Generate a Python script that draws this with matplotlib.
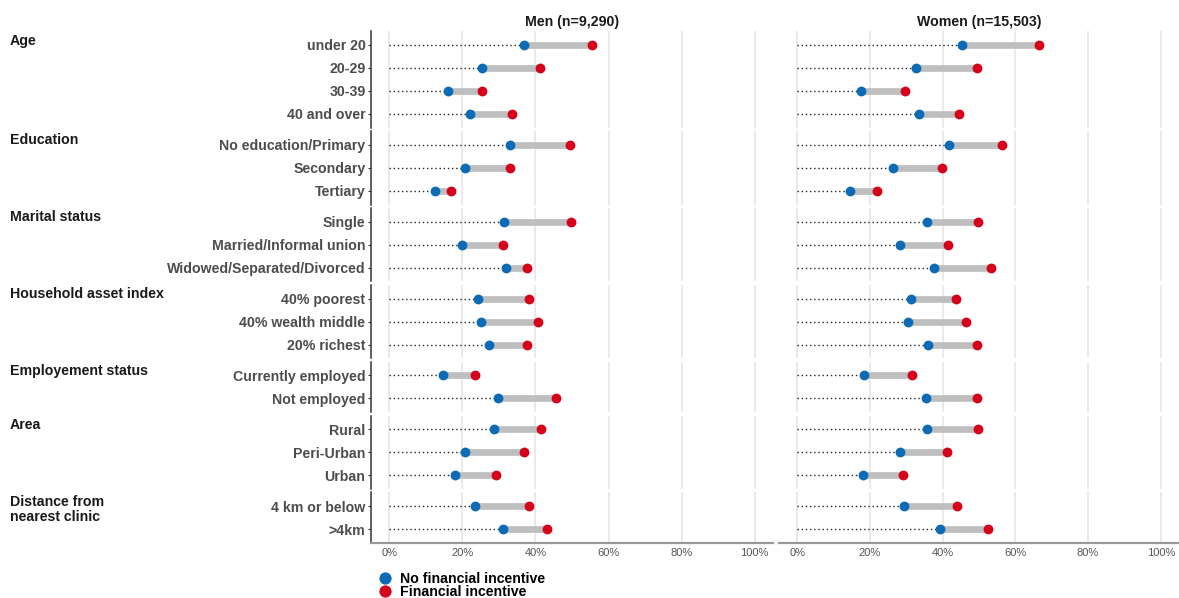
import numpy as np
import matplotlib
matplotlib.use("Agg")
import matplotlib.pyplot as plt
from matplotlib.lines import Line2D

plt.rcParams['font.family'] = ['Liberation Sans', 'DejaVu Sans']

# -----------------------------
# Data (percent)
# -----------------------------
groups = ["Age", "Education", "Marital status", "Household asset index",
          "Employement status", "Area", "Distance from\nnearest clinic"]
categories = [
    ["under 20", "20-29", "30-39", "40 and over"],
    ["No education/Primary", "Secondary", "Tertiary"],
    ["Single", "Married/Informal union", "Widowed/Separated/Divorced"],
    ["40% poorest", "40% wealth middle", "20% richest"],
    ["Currently employed", "Not employed"],
    ["Rural", "Peri-Urban", "Urban"],
    ["4 km or below", ">4km"],
]
men_no = [36.8, 25.4, 16.1, 22.2, 33.0, 20.8, 12.4, 31.4, 20.0, 31.9,
          24.2, 25.0, 27.3, 14.7, 29.8, 28.7, 20.8, 17.9, 23.4, 31.0]
men_fin = [55.6, 41.2, 25.4, 33.7, 49.4, 33.0, 16.9, 49.8, 31.1, 37.6,
           38.2, 40.8, 37.7, 23.4, 45.6, 41.4, 36.8, 29.3, 38.1, 43.2]
women_no = [45.3, 32.8, 17.6, 33.4, 41.8, 26.4, 14.5, 35.6, 28.3, 37.7,
            31.2, 30.6, 36.1, 18.3, 35.4, 35.8, 28.4, 18.1, 29.5, 39.3]
women_fin = [66.5, 49.4, 29.6, 44.6, 56.4, 39.9, 21.9, 49.8, 41.5, 53.3,
             43.6, 46.3, 49.4, 31.6, 49.4, 49.8, 41.3, 29.0, 44.0, 52.5]
panel_titles = ["Men (n=9,290)", "Women (n=15,503)"]
legend_labels = ["No financial incentive", "Financial incentive"]
x_ticks = [0, 20, 40, 60, 80, 100]

blue = "#0b6bb7"
red = "#d5021c"
seg_gray = "#bebebe"
fs = 10.2

# -----------------------------
# Layout (pixels)
# -----------------------------
W, H = 1179, 598
fig = plt.figure(figsize=(W / 100, H / 100), dpi=100)
panel_x = [(371, 773), (779, 1179)]
row_px = 23.0
gap_px = 3.3
top_px = 31.0

series = [(men_no, men_fin), (women_no, women_fin)]

start = 0
y0 = top_px
for gi, (gname, cats) in enumerate(zip(groups, categories)):
    n = len(cats)
    h = (n + 0.2) * row_px
    last = gi == len(groups) - 1
    for pi, (x0, x1) in enumerate(panel_x):
        ax = fig.add_axes([x0 / W, 1 - (y0 + h) / H, (x1 - x0) / W, h / H])
        no = np.array(series[pi][0][start:start + n])
        fin = np.array(series[pi][1][start:start + n])
        y = np.arange(n)
        ax.hlines(y, 0, no, colors="#222222", linestyles=(0, (1, 2.0)), lw=1.0, zorder=2)
        ax.hlines(y, no, fin, colors=seg_gray, lw=4.8, zorder=2)
        ax.scatter(no, y, s=50, color=blue, zorder=3, linewidths=0)
        ax.scatter(fin, y, s=50, color=red, zorder=3, linewidths=0)

        ax.set_xlim(-5, 105)
        ax.set_ylim(n - 0.4, -0.6)
        ax.set_xticks(x_ticks)
        ax.grid(axis="x", color="#e6e6e6", lw=1.2)
        ax.set_axisbelow(True)
        for s in ax.spines.values():
            s.set_visible(False)

        if pi == 0:
            ax.spines["left"].set_visible(True)
            ax.spines["left"].set_color("#333333")
            ax.spines["left"].set_linewidth(1.1)
            ax.set_yticks(y)
            ax.set_yticklabels(cats, fontsize=fs, fontweight="bold", color="#4d4d4d")
            ax.tick_params(axis="y", length=2.5, width=0.8, color="#333333", pad=1.5)
        else:
            ax.set_yticks([])

        if last:
            ax.spines["bottom"].set_visible(True)
            ax.spines["bottom"].set_color("#999999")
            ax.spines["bottom"].set_linewidth(1.6)
            ax.set_xticklabels([f"{t}%" for t in x_ticks], fontsize=8.0, color="#555555")
            ax.tick_params(axis="x", length=0, pad=3.5)
        else:
            ax.tick_params(axis="x", length=0, labelbottom=False)

        if gi == 0:
            ax.set_title(panel_titles[pi], fontsize=fs, fontweight="bold",
                         color="#1a1a1a", pad=3.8)

    # strip label on the left, one text per line
    for li, line in enumerate(gname.split("\n")):
        fig.text(10 / W, 1 - (y0 + 13.5 + li * 15) / H, line, ha="left", va="baseline",
                 fontsize=fs, fontweight="bold", color="#1a1a1a")
    start += n
    y0 += h + gap_px

# -----------------------------
# Legend
# -----------------------------
handles = [Line2D([], [], marker="o", linestyle="", color=blue, markersize=7.8),
           Line2D([], [], marker="o", linestyle="", color=red, markersize=7.8)]
fig.legend(handles, legend_labels, loc="upper left",
           bbox_to_anchor=(378 / W, 1 - 572 / H), frameon=False,
           prop={"size": fs, "weight": "bold"}, handlelength=1.0,
           handletextpad=0.55, labelspacing=-0.07, borderpad=0, borderaxespad=0)

fig.savefig("out.png", dpi=100)
